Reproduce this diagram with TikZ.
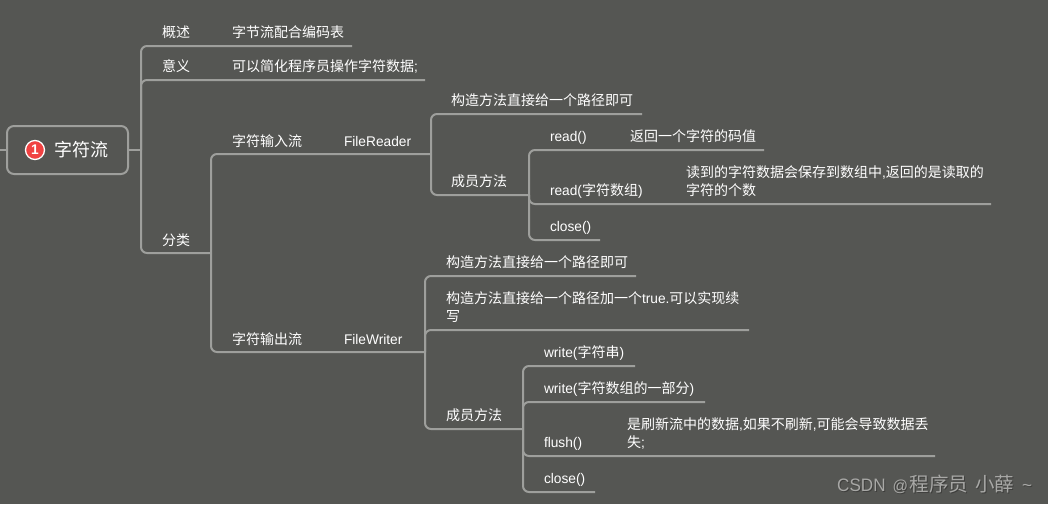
\documentclass[tikz,border=0pt]{standalone}
\usepackage{fontspec}
\setmainfont[FakeStretch=0.98]{Liberation Sans}
\newfontfamily\cjkf{Noto Sans CJK SC}
\newfontfamily\wmf[FakeStretch=0.95]{Liberation Sans}
\newcommand{\cj}[1]{{\cjkf #1}}
\definecolor{bgc}{HTML}{555653}
\definecolor{linec}{HTML}{9E9F9C}
\definecolor{redc}{HTML}{F04242}
\definecolor{markc}{HTML}{A8A8A6}
\definecolor{markshadow}{HTML}{3E3E3C}
\newcommand{\wmtext}{{\wmf CSDN}\hspace{7pt}{\wmf\fontsize{16}{22}\selectfont @}\hspace{1.5pt}{\cjkf\fontsize{19.5}{22}\selectfont 程序员}\hspace{7pt}{\cjkf\fontsize{19.5}{22}\selectfont 小薛}\hspace{8pt}{\wmf\textasciitilde}}
\tikzset{
  lbl/.style={anchor=base west,inner sep=0pt,outer sep=0pt,text=white,font=\fontsize{14}{18}\selectfont},
  wrapped/.style={anchor=west,inner sep=0pt,outer sep=0pt,text=white,align=left,font=\fontsize{14}{18}\selectfont},
  conn/.style={draw=linec,line width=2pt,rounded corners=6pt},
  rootbox/.style={draw=linec,line width=2pt,rounded corners=7pt,minimum width=121pt,minimum height=48pt,inner sep=0pt,outer sep=0pt},
  wmark/.style={anchor=base west,inner sep=0pt,font=\fontsize{18}{22}\selectfont},
}
\begin{document}
\begin{tikzpicture}[x=1pt,y=-1pt]
\useasboundingbox (0,0) rectangle (1048,504);
\fill[bgc] (0,0) rectangle (1048,504);

% root
\node[rootbox] (root) at (67.5,150) {};
\coordinate (rootin) at (0,150);
\node[circle,fill=redc,draw=white,line width=1.3pt,minimum size=19pt,inner sep=0pt,text=white,font=\fontsize{14}{14}\selectfont\bfseries] (badge) at (35,150) {1};
\node[anchor=base west,inner sep=0pt,text=white,font=\fontsize{18}{22}\selectfont] (rootlabel) at (54,156) {\cj{字符流}};

% level 1 labels
\node[lbl] (gs) at (162,37) {\cj{概述}};
\node[lbl] (gsv) at (232,37) {\cj{字节流配合编码表}};
\node[lbl] (yy) at (162,71) {\cj{意义}};
\node[lbl] (yyv) at (232,71) {\cj{可以简化程序员操作字符数据};};
\node[lbl] (fl) at (162,245) {\cj{分类}};

% input stream
\node[lbl] (inl) at (232,146) {\cj{字符输入流}};
\node[lbl] (fr) at (344,146) {FileReader};
\node[lbl] (frc) at (451,105) {\cj{构造方法直接给一个路径即可}};
\node[lbl] (frm) at (451,186) {\cj{成员方法}};
\node[lbl] (r1) at (550,141) {read()};
\node[lbl] (r1v) at (630,141) {\cj{返回一个字符的码值}};
\node[lbl] (r2) at (550,195) {read(\cj{字符数组})};
\node[wrapped] (r2v) at (686,181) {\cj{读到的字符数据会保存到数组中},\cj{返回的是读取的}\\\cj{字符的个数}};
\node[lbl] (r3) at (550,231) {close()};

% output stream
\node[lbl] (outl) at (232,344) {\cj{字符输出流}};
\node[lbl] (fw) at (344,344) {FileWriter};
\node[lbl] (fwc) at (446,267) {\cj{构造方法直接给一个路径即可}};
\node[wrapped] (fwt) at (446,307) {\cj{构造方法直接给一个路径加一个}true.\cj{可以实现续}\\\cj{写}};
\node[lbl] (fwm) at (446,420) {\cj{成员方法}};
\node[lbl] (w1) at (544,357) {write(\cj{字符串})};
\node[lbl] (w2) at (544,393) {write(\cj{字符数组的一部分})};
\node[lbl] (w3) at (544,447) {flush()};
\node[wrapped] (w3v) at (627,433) {\cj{是刷新流中的数据},\cj{如果不刷新},\cj{可能会导致数据丢}\\\cj{失};};
\node[lbl] (w4) at (544,483) {close()};

% junctions and line ends
\coordinate (t0) at (141,150);
\coordinate (e1) at (352,46);
\coordinate (e2) at (425,80);
\coordinate (e3) at (211,253);
\coordinate (t1) at (211,253);
\coordinate (j1) at (431,154);
\coordinate (j2) at (425,352);
\coordinate (a1) at (642,114);
\coordinate (a2) at (529,195);
\coordinate (b1) at (764,150);
\coordinate (b2) at (991,204);
\coordinate (b3) at (600,240);
\coordinate (c1) at (636,276);
\coordinate (c2) at (749,330);
\coordinate (c3) at (523,429);
\coordinate (d1) at (635,366);
\coordinate (d2) at (705,402);
\coordinate (d3) at (935,456);
\coordinate (d4) at (595,492);

% connectors
\draw[conn] (rootin) -- (root.west);
\draw[conn] (root.east) -- (t0);
\draw[conn] (t0) |- (e1);
\draw[conn] (t0) |- (e2);
\draw[conn] (t0) |- (e3);
\draw[conn] (t1) |- (j1);
\draw[conn] (t1) |- (j2);
\draw[conn] (j1) |- (a1);
\draw[conn] (j1) |- (a2);
\draw[conn] (a2) |- (b1);
\draw[conn] (a2) |- (b2);
\draw[conn] (a2) |- (b3);
\draw[conn] (j2) |- (c1);
\draw[conn] (j2) |- (c2);
\draw[conn] (j2) |- (c3);
\draw[conn] (c3) |- (d1);
\draw[conn] (c3) |- (d2);
\draw[conn] (c3) |- (d3);
\draw[conn] (c3) |- (d4);

% watermark
\node[wmark,text=markshadow] (wms) at (838,492) {\wmtext};
\node[wmark,text=markc] (wm) at (837,491) {\wmtext};
\end{tikzpicture}
\end{document}
